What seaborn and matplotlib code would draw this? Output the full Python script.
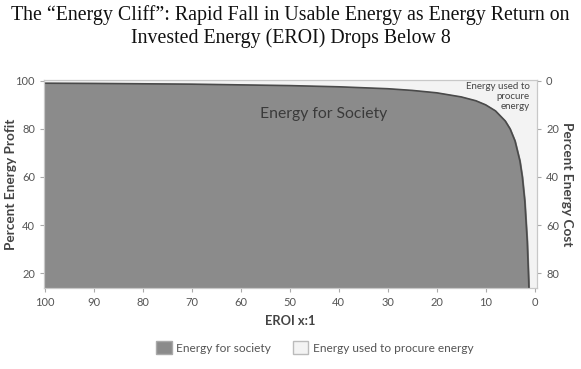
import matplotlib
matplotlib.use("Agg")
import matplotlib.pyplot as plt
import seaborn as sns
import pandas as pd
from matplotlib.patches import Patch

# EROI values (x) and percent energy profit
eroi = [100, 90, 80, 70, 60, 50, 40, 30, 25, 20, 15, 12, 10, 8, 6, 5, 4, 3, 2.5, 2, 1.5, 1.2, 1.16]
profit = [99.0, 98.9, 98.75, 98.6, 98.3, 98.0, 97.5, 96.7, 96.0, 95.0, 93.3, 91.7,
          90.0, 87.5, 83.3, 80.0, 75.0, 66.7, 60.0, 50.0, 33.3, 16.7, 13.8]
x_ticks = [100, 90, 80, 70, 60, 50, 40, 30, 20, 10, 0]
left_ticks = [20, 40, 60, 80, 100]
right_ticks = [0, 20, 40, 60, 80]

df = pd.DataFrame({"EROI": eroi, "Profit": profit})

sns.set_style("white")
plt.rcParams['font.family'] = ['Lato', 'DejaVu Sans']

fig = plt.figure(figsize=(5.81, 3.69), dpi=100)
ax = fig.add_axes([0.0757, 0.2195, 0.9243 - 0.0757, 0.783 - 0.2195])

ymin, ymax = 13.8, 100.3
ax.set_facecolor("#f3f3f3")
ax.fill_between(df["EROI"], ymin, df["Profit"], color="#8b8b8b", zorder=1)
sns.lineplot(data=df, x="EROI", y="Profit", ax=ax, color="#4a4a4a", lw=1.2, zorder=2)

ax.set_xlim(100.2, -0.5)
ax.set_ylim(ymin, ymax)
ax.set_xticks(x_ticks)
ax.set_yticks(left_ticks)
tc = "#555555"
ax.tick_params(axis="both", colors="#aaaaaa", labelcolor=tc, labelsize=8,
               length=3, width=0.8, direction="out", bottom=True, left=True)
for s in ax.spines.values():
    s.set_color("#c8c8c8")
    s.set_linewidth(0.8)

ax.set_xlabel("EROI x:1", fontsize=9.3, fontweight="bold", color="#444444", labelpad=5)
ax.set_ylabel("Percent Energy Profit", fontsize=9.8, fontweight="bold", color="#444444", va="center")
ax.yaxis.set_label_coords(-0.066, 0.5)

ax2 = ax.twinx()
ax2.set_ylim(100 - ymin, 100 - ymax)
ax2.set_yticks(right_ticks)
ax2.tick_params(axis="y", colors="#aaaaaa", labelcolor=tc, labelsize=8,
                length=3, width=0.8, direction="out", right=True)
for s in ax2.spines.values():
    s.set_color("#c8c8c8")
    s.set_linewidth(0.8)
ax2.set_ylabel("Percent Energy Cost", fontsize=9.8, fontweight="bold", color="#444444",
               rotation=270, va="center")
ax2.yaxis.set_label_coords(1.06, 0.5)

ax.text(43, 86.3, "Energy for Society", fontsize=11.3, color="#3a3a3a", ha="center", va="center", zorder=3)
ax.text(0.985, 0.99, "Energy used to\nprocure\nenergy", transform=ax.transAxes,
        fontsize=7, color="#444444", ha="right", va="top", linespacing=1.1, zorder=3)

fig.text(0.5, 0.985, "The \u201cEnergy Cliff\u201d: Rapid Fall in Usable Energy as Energy Return on\nInvested Energy (EROI) Drops Below 8",
         ha="center", va="top", fontsize=14.3, family=["Liberation Serif"], color="#111111",
         linespacing=1.2)

handles = [Patch(facecolor="#8b8b8b", edgecolor="#aaaaaa", label="Energy for society"),
           Patch(facecolor="#f3f3f3", edgecolor="#bbbbbb", label="Energy used to procure energy")]
fig.legend(handles=handles, loc="center", bbox_to_anchor=(0.542, 0.057), ncol=2, frameon=False,
           fontsize=8.6, handlelength=1.3, handleheight=1.3, columnspacing=1.8, handletextpad=0.4,
           labelcolor="#555555")

fig.savefig("out.png", dpi=100)
